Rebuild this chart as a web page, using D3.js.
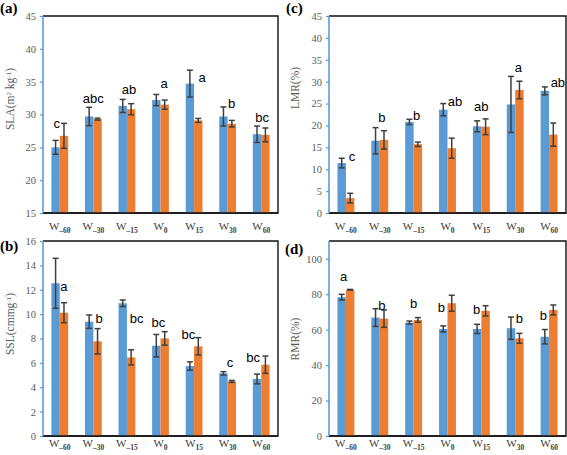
<!DOCTYPE html>
<html><head><meta charset="utf-8">
<script src="https://cdn.jsdelivr.net/npm/d3@7"></script>
<style>
body{margin:0;background:#fff;}
svg{display:block;}
</style></head>
<body>
<script>
// ---------- data ----------
const groups = ["-60","-30","-15","0","15","30","60"];

const slaBlue   = [25.0, 29.7, 31.3, 32.2, 34.7, 29.7, 27.0];
const slaBlueE  = [1.05, 1.4, 1.0, 0.85, 2.05, 1.45, 1.25];
const slaOrange = [26.75, 29.3, 30.8, 31.5, 29.1, 28.6, 26.9];
const slaOrangeE= [1.9, 0.15, 0.85, 0.7, 0.3, 0.5, 1.05];
const slaLetters= ["c","abc","ab","a","a","b","bc"];
const slaLetterAt=[27.9, 31.8, 33.1, 34.0, 34.9, 31.0, 28.9];
const slaLetterDx=[-0.09, 0.0, 0.06, 0.11, 0.24, 0.12, 0.03];

const sslBlue   = [12.53, 9.38, 10.89, 7.41, 5.74, 5.14, 4.68];
const sslBlueE  = [2.05, 0.55, 0.27, 0.92, 0.34, 0.14, 0.4];
const sslOrange = [10.12, 7.77, 6.45, 8.01, 7.36, 4.48, 5.85];
const sslOrangeE= [0.82, 1.04, 0.62, 0.55, 0.71, 0.08, 0.71];
const sslLetters= ["a","b","bc","bc","bc","c","bc"];
const sslLetterAt=[11.9, 9.3, 9.24, 8.97, 7.93, 5.69, 6.1];
const sslLetterDx=[0.12, 0.17, 0.29, -0.06, -0.17, 0.07, -0.24];

const lmrBlue   = [11.4, 16.5, 20.8, 23.6, 19.8, 24.8, 27.9];
const lmrBlueE  = [1.1, 3.0, 0.6, 1.4, 1.25, 6.4, 0.9];
const lmrOrange = [3.4, 16.7, 15.7, 14.8, 19.7, 28.1, 17.9];
const lmrOrangeE= [1.1, 2.1, 0.5, 2.3, 1.8, 2.0, 2.65];
const lmrLetters= ["c","b","b","ab","ab","a","ab"];
const lmrLetterAt=[11.8, 20.9, 21.3, 24.5, 23.2, 32.1, 28.7];
const lmrLetterDx=[0.18, 0.06, 0.09, 0.22, 0.0, 0.09, 0.26];

const rmrBlue   = [78.3, 66.8, 64.0, 60.4, 60.4, 60.8, 56.0];
const rmrBlueE  = [1.6, 5.0, 0.85, 1.7, 2.6, 6.3, 4.05];
const rmrOrange = [82.5, 66.2, 65.5, 74.9, 70.6, 55.1, 71.1];
const rmrOrangeE= [0.2, 4.9, 1.3, 4.5, 2.9, 2.8, 2.8];
const rmrLetters= ["a","b","b","b","b","b","b"];
const rmrLetterAt=[87.2, 71.1, 72.1, 69.8, 68.7, 64.0, 65.5];
const rmrLetterDx=[-0.07, 0.06, 0.0, -0.18, -0.14, 0.12, -0.17];

const slaTicks = [15,20,25,30,35,40,45];
const sslTicks = [0,2,4,6,8,10,12,14,16];
const lmrTicks = [0,5,10,15,20,25,30,35,40,45];
const rmrTicks = [0,20,40,60,80,100];

// ---------- layout ----------
const BLUE = "#5b9bd5", ORANGE = "#ed7d31";
const W = 567, H = 455;
const svg = d3.select("body").append("svg").attr("width", W).attr("height", H);

const panels = [
  {tag:"(a)", blue:slaBlue, blueE:slaBlueE, orange:slaOrange, orangeE:slaOrangeE,
   letters:slaLetters, letterAt:slaLetterAt, letterDx:slaLetterDx, ticks:slaTicks, domain:[15,45],
   box:[43,278,16,213], tagPos:[0,13], titlePos:[14,99], xLabY:230,
   title:["SLA(m", {sup:"2"}, " kg", {sup:"-1"}, ")"]},
  {tag:"(c)", blue:lmrBlue, blueE:lmrBlueE, orange:lmrOrange, orangeE:lmrOrangeE,
   letters:lmrLetters, letterAt:lmrLetterAt, letterDx:lmrLetterDx, ticks:lmrTicks, domain:[0,45],
   box:[329,566,16,213], tagPos:[286,13], titlePos:[299,88], xLabY:230,
   title:["LMR(%)"]},
  {tag:"(b)", blue:sslBlue, blueE:sslBlueE, orange:sslOrange, orangeE:sslOrangeE,
   letters:sslLetters, letterAt:sslLetterAt, letterDx:sslLetterDx, ticks:sslTicks, domain:[0,16],
   box:[43,278,241,436], tagPos:[0,251], titlePos:[14,324], xLabY:447,
   title:["SSL(cmmg", {sup:"-1"}, ")"]},
  {tag:"(d)", blue:rmrBlue, blueE:rmrBlueE, orange:rmrOrange, orangeE:rmrOrangeE,
   letters:rmrLetters, letterAt:rmrLetterAt, letterDx:rmrLetterDx, ticks:rmrTicks, domain:[0,110],
   box:[329,566,241,436], tagPos:[285,254], titlePos:[299,339], xLabY:447,
   title:["RMR(%)"]}
];

panels.forEach(p => {
  const [x0,x1,y0,y1] = p.box;
  const x = d3.scaleBand().domain(groups).range([x0,x1]).paddingInner(0.5).paddingOuter(0.25);
  const sub = d3.scaleBand().domain(["b","o"]).range([0, x.bandwidth()]);
  const y = d3.scaleLinear().domain(p.domain).range([y1,y0]);
  const g = svg.append("g");

  // frame: top, right, bottom in black
  g.append("path").attr("d", `M${x0},${y0}H${x1}V${y1}H${x0}`)
    .attr("fill","none").attr("stroke","#111").attr("stroke-width",1.4);

  // bars
  const series = [
    {key:"b", vals:p.blue, errs:p.blueE, color:BLUE},
    {key:"o", vals:p.orange, errs:p.orangeE, color:ORANGE}
  ];
  series.forEach(s => {
    g.selectAll(null).data(groups).enter().append("rect")
      .attr("x", d => x(d) + sub(s.key))
      .attr("width", sub.bandwidth())
      .attr("y", (d,i) => y(s.vals[i]))
      .attr("height", (d,i) => y(p.domain[0]) - y(s.vals[i]))
      .attr("fill", s.color);
  });
  // error bars
  series.forEach(s => {
    const eg = g.selectAll(null).data(groups).enter().append("g")
      .attr("stroke","#3f3f3f").attr("stroke-width",1.5);
    const cx = d => x(d) + sub(s.key) + sub.bandwidth()/2;
    eg.append("line").attr("x1",cx).attr("x2",cx)
      .attr("y1",(d,i)=>y(s.vals[i]+s.errs[i])).attr("y2",(d,i)=>y(s.vals[i]-s.errs[i]));
    eg.append("line").attr("x1",d=>cx(d)-3).attr("x2",d=>cx(d)+3)
      .attr("y1",(d,i)=>y(s.vals[i]+s.errs[i])).attr("y2",(d,i)=>y(s.vals[i]+s.errs[i]));
    eg.append("line").attr("x1",d=>cx(d)-3).attr("x2",d=>cx(d)+3)
      .attr("y1",(d,i)=>y(s.vals[i]-s.errs[i])).attr("y2",(d,i)=>y(s.vals[i]-s.errs[i]));
  });

  // bottom axis line (black) redraw over bars
  g.append("line").attr("x1",x0).attr("x2",x1).attr("y1",y1).attr("y2",y1)
    .attr("stroke","#111").attr("stroke-width",1.4);

  // y axis (blue)
  const ya = g.append("g").attr("transform",`translate(${x0},0)`)
    .call(d3.axisLeft(y).tickValues(p.ticks).tickSize(3).tickSizeOuter(0).tickPadding(4));
  ya.select(".domain").attr("stroke",BLUE).attr("stroke-width",1.6)
    .attr("d", `M0,${y0}V${y1}`);
  ya.selectAll(".tick line").attr("stroke",BLUE).attr("stroke-width",1.2);
  ya.selectAll(".tick text").attr("fill","#595959")
    .style("font-family","'Liberation Serif','Times New Roman',serif").style("font-size","10.5px");

  // x labels
  const xl = g.selectAll(null).data(groups).enter().append("text")
    .attr("x", d => x(d) + x.bandwidth()/2).attr("y", p.xLabY)
    .attr("text-anchor","middle").attr("fill","#404040")
    .style("font-family","'Liberation Serif','Times New Roman',serif");
  xl.append("tspan").text("W").style("font-size","11px");
  xl.append("tspan").text(d => d.replace("-","\u2012")).attr("dy",3)
    .style("font-size","7.5px").style("font-weight","bold");

  // significance letters
  g.selectAll(null).data(p.letters).enter().append("text")
    .attr("x",(d,i)=> x(groups[i]) + x.bandwidth()/2 + p.letterDx[i]*x.step())
    .attr("y",(d,i)=> y(p.letterAt[i]))
    .attr("text-anchor","middle").attr("fill","#000")
    .style("font-family","'Liberation Sans',Arial,sans-serif").style("font-size","13px")
    .text(d=>d);

  // axis title
  const t = svg.append("text")
    .attr("transform",`translate(${p.titlePos[0]},${p.titlePos[1]}) rotate(-90)`)
    .attr("text-anchor","middle").attr("fill","#595959")
    .style("font-family","'Liberation Serif','Times New Roman',serif").style("font-size","11.5px");
  let pending = 0;
  p.title.forEach(part => {
    if (typeof part === "string") {
      const ts = t.append("tspan").text(part);
      if (pending) { ts.attr("dy", pending); pending = 0; }
    } else {
      t.append("tspan").text(part.sup).attr("dy", -3 - pending).style("font-size","7px");
      pending = 3;
    }
  });

  // panel tag
  svg.append("text").attr("x",p.tagPos[0]).attr("y",p.tagPos[1])
    .attr("fill","#000").style("font-family","'Liberation Serif','Times New Roman',serif")
    .style("font-size","15px").style("font-weight","bold").text(p.tag);
});
</script>
</body></html>
